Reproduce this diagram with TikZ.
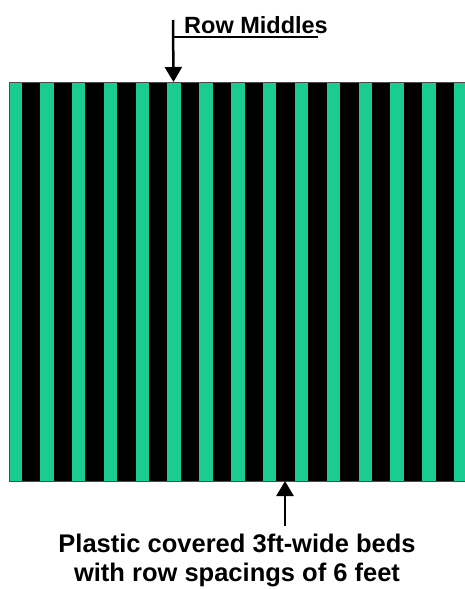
\documentclass[tikz,border=0pt]{standalone}
\usepackage{fontspec}
\setsansfont{Liberation Sans}
\usetikzlibrary{arrows.meta}
\definecolor{bedgreen}{RGB}{26,204,146}
\begin{document}
\begin{tikzpicture}[
  x=1pt, y=-1pt,
  bed/.style={fill=bedgreen, draw=none},
  pointer/.style={-{Triangle[length=15pt,width=17pt]}, line width=2.5pt},
  rule/.style={line width=2.2pt},
  label/.style={font=\sffamily\bfseries\fontsize{23.5}{26}\selectfont, inner sep=0pt},
  caption/.style={font=\sffamily\bfseries\fontsize{25.5}{29}\selectfont, align=center, inner sep=0pt}
]
  \useasboundingbox (0,0) rectangle (464,589);

  % field: black ground with plastic covered beds
  \fill[black] (9,82) rectangle (470,481);
  \begin{scope}
    \clip (9,82) rectangle (470,481);
    \foreach \k in {0,...,14}
      \fill[bed] ({8.15+31.85*\k},82) rectangle ({21.65+31.85*\k},481);
  \end{scope}
  \draw[black!70, line width=0.8pt] (470,82) -- (9,82) -- (9,481) -- (470,481);

  % row middles
  \coordinate (topend) at (173,20);
  \coordinate (midtip) at (173.5,82);
  \coordinate (ulstart) at (173,37);
  \coordinate (ulend) at (318,37);
  \node[label, anchor=base west] (rowlbl) at (184,33) {Row Middles};
  \draw[pointer] (topend) -- (midtip);
  \draw[rule] (ulstart) -- (ulend);

  % beds
  \coordinate (bedtip) at (285,481);
  \node[caption, anchor=north] (bedlbl) at (237,534) {Plastic covered 3ft-wide beds\\with row spacings of 6 feet};
  \coordinate (bedend) at (285,526);
  \draw[pointer] (bedend) -- (bedtip);
\end{tikzpicture}
\end{document}
